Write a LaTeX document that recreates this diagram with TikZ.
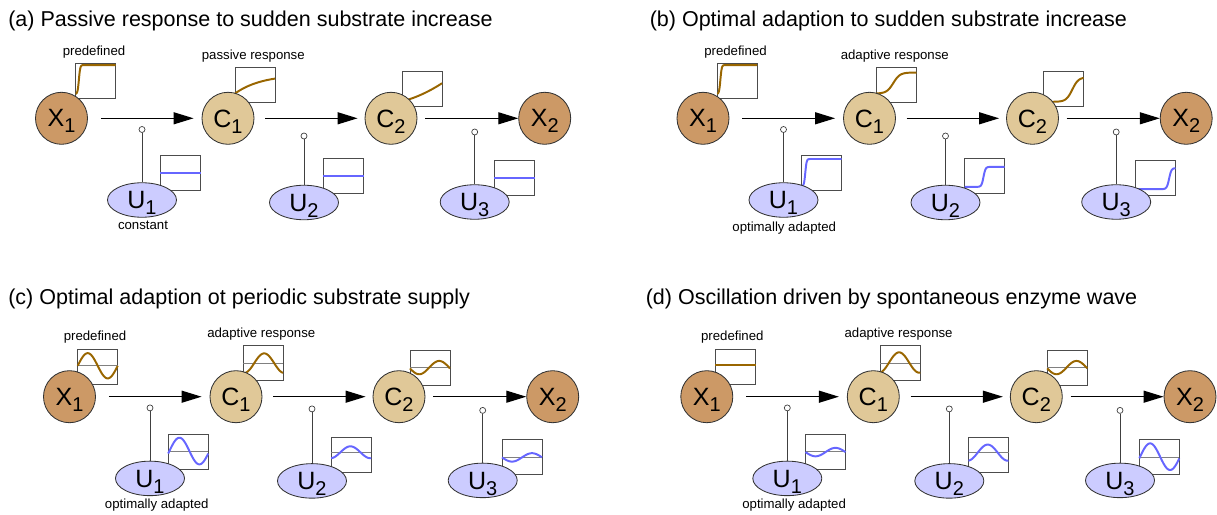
\documentclass[tikz,border=0pt]{standalone}
\usepackage{fontspec}
\setmainfont{Liberation Sans}
\usetikzlibrary{arrows.meta, shapes.geometric}

% 颜色
\definecolor{xfill}{RGB}{204,153,102}
\definecolor{cfill}{RGB}{224,200,152}
\definecolor{ufill}{RGB}{204,204,255}
\definecolor{xline}{RGB}{153,102,0}
\definecolor{uline}{RGB}{102,102,255}

% 大号下标
\newcommand{\lowidx}[1]{\raisebox{-0.15cm}{\fontsize{14.2}{14.2}\selectfont #1}}

% 小图：左下角, 曲线样式, 曲线, 零线高度(可空)
\newcommand{\inset}[4]{%
  \begin{scope}[shift={(#1)}, x=1cm, y=0.875cm]
    \draw[plotbox] (0,0) rectangle (1,1);
    \ifx\relax#4\relax\else\draw[zeroline] (0,#4) -- (1,#4);\fi
    \draw[#2] plot[domain=0:1, samples=101, smooth] (\x, {#3});
  \end{scope}}

% 反应链：前缀, 第二个调控点高度
\newcommand{\pathway}[2]{%
  \node[metab] (#1X1) at (61.5,395.7) {X\lowidx{1}};
  \node[cplx]  (#1C1) at (228,395.7) {C\lowidx{1}};
  \node[cplx]  (#1C2) at (391,395.7) {C\lowidx{2}};
  \node[metab] (#1X2) at (544.7,395.7) {X\lowidx{2}};
  \node[enzy]  (#1U1) at (142,314) {U\lowidx{1}};
  \node[enzy]  (#1U2) at (304,311.5) {U\lowidx{2}};
  \node[enzy]  (#1U3) at (474.7,312) {U\lowidx{3}};
  \node[probe] (#1m1) at (142,384.5) {};
  \node[probe] (#1m2) at (304,#2) {};
  \node[probe] (#1m3) at (474.7,382) {};
  \draw[flow] (#1X1) -- (#1C1);
  \draw[flow, shorten <=0.27cm, shorten >=0.175cm] (#1C1) -- (#1C2);
  \draw[flow, shorten <=0.195cm, shorten >=0pt] (#1C2) -- (#1X2);
  \foreach \i in {1,2,3} \draw[link] (#1m\i) -- (#1U\i);
}

\begin{document}
\begin{tikzpicture}[x=0.025cm, y=0.025cm, >={Triangle[length=0.5cm, width=0.3cm]},
    declare function={sig(\q)=1/(1+exp(min(9,max(-9,-\q))));},
    metab/.style={circle, draw=black!80, fill=xfill, line width=0.6pt, minimum size=1.3cm,
      inner sep=0pt, text depth=0pt, font=\fontsize{17.8}{17.8}\selectfont},
    cplx/.style={metab, fill=cfill},
    enzy/.style={ellipse, draw=black!80, fill=ufill, line width=0.6pt, minimum width=1.725cm,
      minimum height=0.8625cm, inner sep=0pt, text depth=0pt, font=\fontsize{17.8}{17.8}\selectfont},
    probe/.style={circle, draw=black!75, fill=white, line width=0.5pt, minimum size=0.15cm, inner sep=0pt},
    flow/.style={->, line width=0.85pt, shorten <=0.325cm, shorten >=0.2cm},
    link/.style={draw=black!75, line width=0.55pt},
    plotbox/.style={draw=black!70, line width=0.55pt},
    zeroline/.style={draw=black!50, line width=0.55pt},
    xcurve/.style={draw=xline, line width=1.4pt},
    ucurve/.style={draw=uline, line width=1.4pt},
    heading/.style={anchor=base west, inner sep=0pt, font=\fontsize{15.3}{18}\selectfont},
    remark/.style={inner sep=0pt, font=\fontsize{9.4}{11}\selectfont}]

  \useasboundingbox (0,0) rectangle (1217,514);

  % ================= (a) 被动响应 =================
  \node[heading] (ta) at (8,487.5) {(a) Passive response to sudden substrate increase};
  \begin{scope}
    % 浓度与酶水平小图
    \inset{75.7,415.7}{xcurve}{0.12+0.83*sig(60*(\x-0.08))}{}
    \inset{235,411.7}{xcurve}{0.25+0.55*(1-exp(-1.5*\x))}{}
    \inset{402,407.3}{xcurve}{0.15+0.3*\x+0.22*\x*\x}{}
    \inset{160.2,323.5}{ucurve}{0.51}{}
    \inset{323.2,320.5}{ucurve}{0.51}{}
    \inset{494,318.2}{ucurve}{0.51}{}
    % 反应链
    \pathway{a}{378}
    \node[remark] (apre) at (94,462.3) {predefined};
    \node[remark] (aresp) at (253.3,458) {passive response};
    \node[remark] (aenz) at (143,288.3) {constant};
  \end{scope}

  % ================= (b) 最优适应：阶跃 =================
  \node[heading] (tb) at (649.5,487.5) {(b) Optimal adaption to sudden substrate increase};
  \begin{scope}[shift={(641.5,0)}]
    \inset{75.7,415.7}{xcurve}{0.12+0.83*sig(60*(\x-0.08))}{}
    \inset{235,411.7}{xcurve}{0.25+0.6*sig(12*(\x-0.42))}{}
    \inset{402,407.3}{xcurve}{0.14+0.7*sig(13*(\x-0.72))}{}
    \inset{160.2,323.5}{ucurve}{0.12+0.78*sig(60*(\x-0.09))}{}
    \inset{323.2,320.5}{ucurve}{0.19+0.57*sig(40*(\x-0.47))}{}
    \inset{494,318.2}{ucurve}{0.19+0.6*sig(35*(\x-0.84))}{}
    \pathway{b}{378}
    \node[remark] (bpre) at (94,462.3) {predefined};
    \node[remark] (bresp) at (253.3,458) {adaptive response};
    \node[remark] (benz) at (142.7,285.7) {optimally adapted};
  \end{scope}

  % ================= (c) 周期性底物供应 =================
  \node[heading] (tc) at (8,209) {(c) Optimal adaption ot periodic substrate supply};
  \begin{scope}[shift={(8,-278.4)}]
    \inset{69.7,408.4}{xcurve}{0.52+0.36*sin(360*\x)}{0.52}
    \inset{235,411.7}{xcurve}{0.5-0.28*cos(360*(\x-0.03))}{0.5}
    \inset{402,407.3}{xcurve}{0.5+0.19*sin(360*(\x-0.48))}{0.5}
    \inset{160.2,323.5}{ucurve}{0.51+0.38*sin(360*(\x-0.03))}{0.51}
    \inset{323.2,320.5}{ucurve}{0.56+0.17*cos(360*(\x-0.48))}{0.57}
    \inset{494,318.2}{ucurve}{0.48-0.12*sin(360*\x)}{0.48}
    \pathway{c}{383.5}
    \node[remark] (cpre) at (87,455.7) {predefined};
    \node[remark] (cresp) at (253.3,458) {adaptive response};
    \node[remark] (cenz) at (148.8,287.4) {optimally adapted};
  \end{scope}

  % ================= (d) 酶波驱动的振荡 =================
  \node[heading] (td) at (645.5,209) {(d) Oscillation driven by spontaneous enzyme wave};
  \begin{scope}[shift={(645.3,-278.4)}]
    \inset{69.7,408.4}{xcurve}{0.54}{0.54}
    \inset{235,411.7}{xcurve}{0.52-0.29*cos(360*(\x+0.03))}{0.5}
    \inset{402,407.3}{xcurve}{0.5+0.19*sin(360*(\x-0.48))}{0.5}
    \inset{160.2,323.5}{ucurve}{0.48-0.12*sin(360*\x)}{0.5}
    \inset{323.2,320.5}{ucurve}{0.55+0.23*cos(360*(\x-0.48))}{0.55}
    \inset{494,318.2}{ucurve}{0.5+0.38*sin(360*(\x-0.02))}{0.47}
    \pathway{d}{383.5}
    \node[remark] (dpre) at (87,455.7) {predefined};
    \node[remark] (dresp) at (253.3,458) {adaptive response};
    \node[remark] (denz) at (148.8,287.4) {optimally adapted};
  \end{scope}

\end{tikzpicture}
\end{document}
